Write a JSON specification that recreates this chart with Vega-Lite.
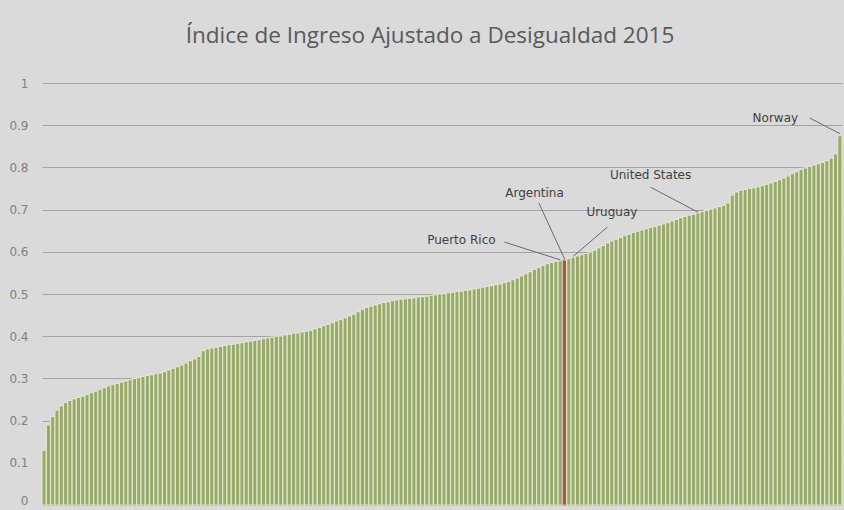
{
  "$schema": "https://vega.github.io/schema/vega-lite/v6.json",
  "autosize": "none",
  "width": 800,
  "height": 422,
  "padding": {"left": 42, "top": 83, "right": 2, "bottom": 5},
  "background": "#dadada",
  "title": {
    "text": "Índice de Ingreso Ajustado a Desigualdad 2015",
    "font": "Open Sans",
    "fontSize": 22.5,
    "fontWeight": "normal",
    "color": "#595959",
    "anchor": "middle",
    "dx": -12,
    "offset": 30
  },
  "datasets": {
    "bars": [
      {"i":0,"v":0.13},{"i":1,"v":0.19},{"i":2,"v":0.21},{"i":3,"v":0.225},{"i":4,"v":0.235},{"i":5,"v":0.243},{"i":6,"v":0.248},{"i":7,"v":0.252},{"i":8,"v":0.255},{"i":9,"v":0.258},
      {"i":10,"v":0.262},{"i":11,"v":0.266},{"i":12,"v":0.27},{"i":13,"v":0.274},{"i":14,"v":0.278},{"i":15,"v":0.282},{"i":16,"v":0.285},{"i":17,"v":0.288},{"i":18,"v":0.291},{"i":19,"v":0.294},
      {"i":20,"v":0.297},{"i":21,"v":0.3},{"i":22,"v":0.302},{"i":23,"v":0.305},{"i":24,"v":0.307},{"i":25,"v":0.309},{"i":26,"v":0.311},{"i":27,"v":0.313},{"i":28,"v":0.316},{"i":29,"v":0.32},
      {"i":30,"v":0.324},{"i":31,"v":0.328},{"i":32,"v":0.332},{"i":33,"v":0.337},{"i":34,"v":0.342},{"i":35,"v":0.346},{"i":36,"v":0.352},{"i":37,"v":0.366},{"i":38,"v":0.37},{"i":39,"v":0.372},
      {"i":40,"v":0.374},{"i":41,"v":0.376},{"i":42,"v":0.378},{"i":43,"v":0.38},{"i":44,"v":0.381},{"i":45,"v":0.383},{"i":46,"v":0.385},{"i":47,"v":0.387},{"i":48,"v":0.388},{"i":49,"v":0.39},
      {"i":50,"v":0.392},{"i":51,"v":0.394},{"i":52,"v":0.396},{"i":53,"v":0.398},{"i":54,"v":0.4},{"i":55,"v":0.401},{"i":56,"v":0.403},{"i":57,"v":0.405},{"i":58,"v":0.407},{"i":59,"v":0.408},
      {"i":60,"v":0.41},{"i":61,"v":0.412},{"i":62,"v":0.414},{"i":63,"v":0.418},{"i":64,"v":0.421},{"i":65,"v":0.425},{"i":66,"v":0.428},{"i":67,"v":0.432},{"i":68,"v":0.436},{"i":69,"v":0.44},
      {"i":70,"v":0.444},{"i":71,"v":0.448},{"i":72,"v":0.452},{"i":73,"v":0.458},{"i":74,"v":0.464},{"i":75,"v":0.468},{"i":76,"v":0.471},{"i":77,"v":0.474},{"i":78,"v":0.477},{"i":79,"v":0.48},
      {"i":80,"v":0.482},{"i":81,"v":0.484},{"i":82,"v":0.486},{"i":83,"v":0.488},{"i":84,"v":0.489},{"i":85,"v":0.49},{"i":86,"v":0.491},{"i":87,"v":0.493},{"i":88,"v":0.494},{"i":89,"v":0.495},
      {"i":90,"v":0.497},{"i":91,"v":0.498},{"i":92,"v":0.5},{"i":93,"v":0.501},{"i":94,"v":0.503},{"i":95,"v":0.504},{"i":96,"v":0.506},{"i":97,"v":0.507},{"i":98,"v":0.509},{"i":99,"v":0.51},
      {"i":100,"v":0.512},{"i":101,"v":0.514},{"i":102,"v":0.516},{"i":103,"v":0.518},{"i":104,"v":0.52},{"i":105,"v":0.522},{"i":106,"v":0.524},{"i":107,"v":0.527},{"i":108,"v":0.53},{"i":109,"v":0.534},
      {"i":110,"v":0.538},{"i":111,"v":0.543},{"i":112,"v":0.548},{"i":113,"v":0.553},{"i":114,"v":0.558},{"i":115,"v":0.563},{"i":116,"v":0.568},{"i":117,"v":0.572},{"i":118,"v":0.575},{"i":119,"v":0.577},
      {"i":120,"v":0.579,"c":"Puerto Rico"},{"i":121,"v":0.581,"c":"Argentina"},{"i":122,"v":0.584},{"i":123,"v":0.587,"c":"Uruguay"},{"i":124,"v":0.59},{"i":125,"v":0.593},{"i":126,"v":0.596},{"i":127,"v":0.6},{"i":128,"v":0.604},{"i":129,"v":0.609},
      {"i":130,"v":0.615},{"i":131,"v":0.621},{"i":132,"v":0.626},{"i":133,"v":0.63},{"i":134,"v":0.634},{"i":135,"v":0.638},{"i":136,"v":0.642},{"i":137,"v":0.646},{"i":138,"v":0.649},{"i":139,"v":0.652},
      {"i":140,"v":0.655},{"i":141,"v":0.658},{"i":142,"v":0.66},{"i":143,"v":0.663},{"i":144,"v":0.666},{"i":145,"v":0.669},{"i":146,"v":0.673},{"i":147,"v":0.677},{"i":148,"v":0.681},{"i":149,"v":0.684},
      {"i":150,"v":0.687},{"i":151,"v":0.689},{"i":152,"v":0.692,"c":"United States"},{"i":153,"v":0.695},{"i":154,"v":0.698},{"i":155,"v":0.701},{"i":156,"v":0.704},{"i":157,"v":0.707},{"i":158,"v":0.71},{"i":159,"v":0.716},
      {"i":160,"v":0.735},{"i":161,"v":0.742},{"i":162,"v":0.746},{"i":163,"v":0.748},{"i":164,"v":0.75},{"i":165,"v":0.752},{"i":166,"v":0.754},{"i":167,"v":0.757},{"i":168,"v":0.76},{"i":169,"v":0.763},
      {"i":170,"v":0.767},{"i":171,"v":0.771},{"i":172,"v":0.775},{"i":173,"v":0.78},{"i":174,"v":0.785},{"i":175,"v":0.79},{"i":176,"v":0.795},{"i":177,"v":0.799},{"i":178,"v":0.803},{"i":179,"v":0.806},
      {"i":180,"v":0.809},{"i":181,"v":0.812},{"i":182,"v":0.816},{"i":183,"v":0.822},{"i":184,"v":0.832},{"i":185,"v":0.875,"c":"Norway"}
    ],
    "notes": [
      {"label":"Norway","lx":178,"ly":0.917,"bx":185,"by":0.88,"tx":170,"ty":0.917},
      {"label":"United States","lx":141,"ly":0.753,"bx":152,"by":0.694,"tx":141,"ty":0.782},
      {"label":"Argentina","lx":115,"ly":0.716,"bx":121,"by":0.583,"tx":114,"ty":0.739},
      {"label":"Uruguay","lx":131,"ly":0.659,"bx":123,"by":0.589,"tx":132,"ty":0.694},
      {"label":"Puerto Rico","lx":107,"ly":0.623,"bx":120,"by":0.581,"tx":97,"ty":0.628}
    ]
  },
  "layer": [
    {
      "data": {"name": "bars"},
      "mark": {"type": "bar", "strokeWidth": 1.2},
      "encoding": {
        "x": {"field": "i", "type": "ordinal", "axis": null, "scale": {"paddingInner": 0, "paddingOuter": 0}},
        "y": {
          "field": "v", "type": "quantitative",
          "scale": {"domain": [0, 1], "nice": false},
          "axis": {
            "title": null, "domain": false, "ticks": false,
            "values": [0, 0.1, 0.2, 0.3, 0.4, 0.5, 0.6, 0.7, 0.8, 0.9, 1],
            "format": ".1~f",
            "labelColor": "#808080", "labelFontSize": 12, "labelFont": "DejaVu Sans",
            "labelPadding": 14,
            "labelOffset": {"condition": {"test": "datum.value === 0", "value": -5}, "value": 0},
            "gridColor": "#a3a3a3", "gridWidth": 1
          }
        },
        "fill": {"condition": {"test": "datum.c === 'Argentina'", "value": "#a0584a"}, "value": "#97a96c"},
        "stroke": {"condition": {"test": "datum.c === 'Argentina'", "value": "#dcbab0"}, "value": "#e0e8c4"}
      }
    },
    {
      "data": {"name": "notes"},
      "mark": {"type": "rule", "color": "#6a6a6a", "strokeWidth": 1},
      "encoding": {
        "x": {"field": "lx", "type": "ordinal"},
        "x2": {"field": "bx"},
        "y": {"field": "ly", "type": "quantitative"},
        "y2": {"field": "by"}
      }
    },
    {
      "data": {"name": "notes"},
      "mark": {"type": "text", "font": "DejaVu Sans", "fontSize": 12, "color": "#3f3f3f", "baseline": "middle", "align": "center"},
      "encoding": {
        "x": {"field": "tx", "type": "ordinal"},
        "y": {"field": "ty", "type": "quantitative"},
        "text": {"field": "label"}
      }
    }
  ],
  "config": {"view": {"stroke": null}}
}
